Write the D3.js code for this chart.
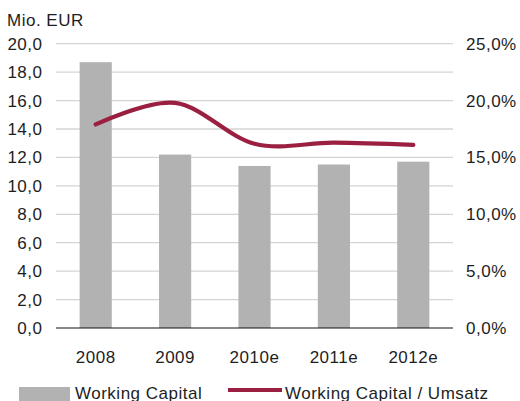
<!DOCTYPE html>
<html><head><meta charset="utf-8">
<script src="https://cdn.jsdelivr.net/npm/d3@7"></script>
<style>
html,body{margin:0;padding:0;background:#fff;}
svg text{font-family:"Liberation Sans",Arial,sans-serif;fill:#1e1e1e;letter-spacing:0.5px;}
</style></head>
<body>
<svg id="c" width="520" height="401"></svg>
<script>
const categories = ["2008","2009","2010e","2011e","2012e"];
const workingCapital = [18.7, 12.2, 11.4, 11.5, 11.7];
const wcRatio = [17.9, 19.8, 16.2, 16.3, 16.1];
const leftTicks = [0,2,4,6,8,10,12,14,16,18,20];
const rightTicks = [0,5,10,15,20,25];
const unitLabel = "Mio. EUR";
const legendLabels = ["Working Capital","Working Capital / Umsatz"];

const svg = d3.select("#c");
const L = 56, R = 453, T = 43.7, B = 328;
const fs = 17;
const fmt1 = v => d3.format(".1f")(v).replace(".", ",");

const x = d3.scaleBand().domain(categories).range([L, R]).padding(0);
const yL = d3.scaleLinear().domain([0, 20]).range([B, T]);
const yR = d3.scaleLinear().domain([0, 25]).range([B, T]);

// gridlines
svg.append("g").selectAll("line").data(leftTicks.filter(d => d > 0)).join("line")
  .attr("x1", L).attr("x2", R)
  .attr("y1", d => yL(d)).attr("y2", d => yL(d))
  .attr("stroke", "#d4d4d4").attr("stroke-width", 1.3);

// bars
const bw = x.bandwidth() * 0.405;
svg.append("g").selectAll("rect").data(categories).join("rect")
  .attr("x", d => x(d) + x.bandwidth()/2 - bw/2)
  .attr("width", bw)
  .attr("y", (d,i) => yL(workingCapital[i]))
  .attr("height", (d,i) => B - yL(workingCapital[i]))
  .attr("fill", "#b2b2b2");

// baseline
svg.append("line").attr("x1", L).attr("x2", R).attr("y1", B).attr("y2", B)
  .attr("stroke", "#111").attr("stroke-width", 1.2);

// line
const line = d3.line()
  .x((d,i) => x(categories[i]) + x.bandwidth()/2)
  .y(d => yR(d))
  .curve(d3.curveCardinal.tension(0));
svg.append("path").datum(wcRatio).attr("d", line)
  .attr("fill", "none").attr("stroke", "#9a1f40").attr("stroke-width", 4.2)
  .attr("stroke-linecap", "round");

// left axis labels
svg.append("g").selectAll("text").data(leftTicks).join("text")
  .attr("x", 42.5).attr("y", d => yL(d) + 6)
  .attr("text-anchor", "end").attr("font-size", fs)
  .text(d => fmt1(d));

// right axis labels
svg.append("g").selectAll("text").data(rightTicks).join("text")
  .attr("x", 466).attr("y", d => yR(d) + 6)
  .attr("text-anchor", "start").attr("font-size", fs)
  .text(d => fmt1(d) + "%");

// x labels
svg.append("g").selectAll("text").data(categories).join("text")
  .attr("x", d => x(d) + x.bandwidth()/2).attr("y", 363)
  .attr("text-anchor", "middle").attr("font-size", fs)
  .text(d => d);

// unit label
svg.append("text").attr("x", 7).attr("y", 26).attr("font-size", fs).text(unitLabel);

// legend
svg.append("rect").attr("x", 19).attr("y", 387).attr("width", 51).attr("height", 16).attr("fill", "#b2b2b2");
svg.append("text").attr("x", 75).attr("y", 399).attr("font-size", fs).text(legendLabels[0]);
svg.append("line").attr("x1", 228).attr("x2", 282).attr("y1", 390).attr("y2", 390)
  .attr("stroke", "#9a1f40").attr("stroke-width", 4.2);
svg.append("text").attr("x", 285).attr("y", 399).attr("font-size", fs).text(legendLabels[1]);
</script>
</body></html>
